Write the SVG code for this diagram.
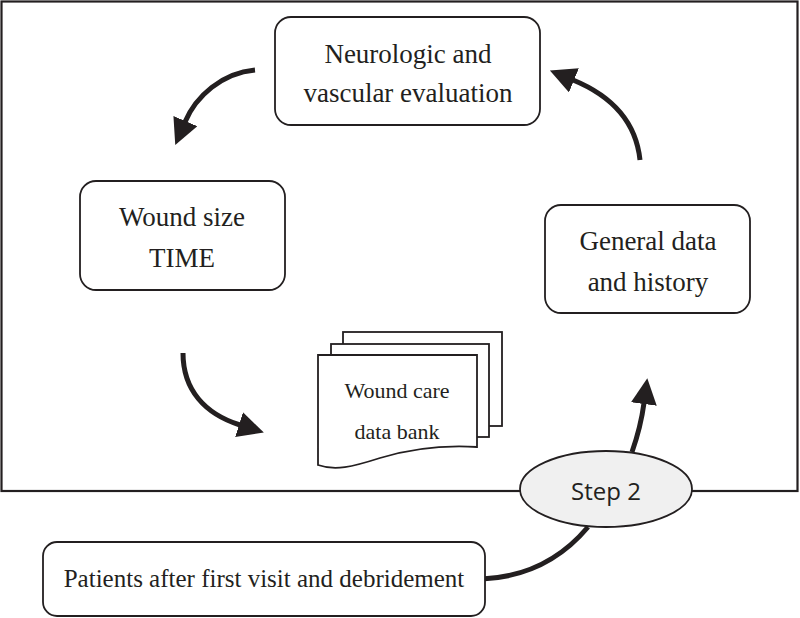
<svg xmlns="http://www.w3.org/2000/svg" width="800" height="618" viewBox="0 0 800 618">
<style>
.box{fill:#fff;stroke:#231f20;stroke-width:1.8}
.t{font-family:"Liberation Serif","Times New Roman",serif;font-size:27px;fill:#231f20;text-anchor:middle}
.ts{font-family:"Liberation Serif","Times New Roman",serif;font-size:22px;fill:#231f20;text-anchor:middle}
.arr{fill:none;stroke:#231f20;stroke-width:5;marker-end:url(#ah)}
.ln{fill:none;stroke:#231f20;stroke-width:5}
</style>
<defs>
<marker id="ah" markerUnits="userSpaceOnUse" viewBox="0 0 26 26" markerWidth="26" markerHeight="26" refX="1" refY="13" orient="auto">
<path d="M0,0 L26,13 L0,26 z" fill="#231f20"/>
</marker>
</defs>
<rect x="1.5" y="1.5" width="796" height="489.5" fill="#fff" stroke="#231f20" stroke-width="2.2"/>
<g id="connectors">
<path class="arr" d="M255,70 C222,73 196,96 185,122"/>
<path class="arr" d="M640,160 C636,122 612,96 573,80"/>
<path class="arr" d="M183,353 C183,390 205,414 240,425"/>
<path class="ln" d="M482,579 C528,577 562,558 588,527"/>
<path class="arr" d="M632,452 C639,432 642,418 644,403"/>
</g>
<g id="node-neuro">
<rect class="box" x="275" y="17" width="265" height="108" rx="16"/>
<text class="t" x="408" y="63">Neurologic and</text>
<text class="t" x="408" y="102">vascular evaluation</text>
</g>
<g id="node-wound">
<rect class="box" x="80" y="181" width="205" height="109" rx="16"/>
<text class="t" x="182" y="226">Wound size</text>
<text class="t" x="182" y="267">TIME</text>
</g>
<g id="node-general">
<rect class="box" x="545" y="205" width="205" height="108" rx="16"/>
<text class="t" x="648" y="250">General data</text>
<text class="t" x="648" y="291">and history</text>
</g>
<g id="node-databank">
<rect class="box" x="343" y="332" width="159" height="94"/>
<rect class="box" x="331" y="344" width="158" height="93"/>
<path class="box" d="M318,355 H477 V447 C445,445 410,449 380,458 C352,467 335,471 318,465 Z"/>
<text class="ts" x="397" y="398">Wound care</text>
<text class="ts" x="397" y="439">data bank</text>
</g>
<g id="node-step2">
<ellipse cx="606" cy="489" rx="86" ry="38" fill="#f0f0f0" stroke="#231f20" stroke-width="1.8"/>
<text x="606" y="500" font-family="'Open Sans','Noto Sans',sans-serif" font-size="24" fill="#231f20" text-anchor="middle">Step 2</text>
</g>
<g id="node-patients">
<rect class="box" x="43" y="542" width="442" height="74" rx="14"/>
<text class="ts" x="264" y="587" style="font-size:25px">Patients after first visit and debridement</text>
</g>
</svg>
